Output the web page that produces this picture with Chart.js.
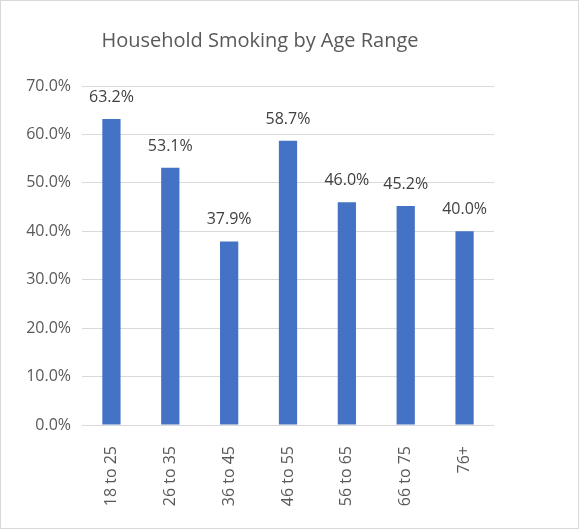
<!DOCTYPE html>
<html>
<head>
<meta charset="utf-8">
<script src="https://cdn.jsdelivr.net/npm/chart.js@4"></script>
<style>
  html, body { margin: 0; padding: 0; background: #fff; }
  #wrap { width: 579px; height: 529px; }
</style>
</head>
<body>
<div id="wrap"><canvas id="myChart" width="579" height="529"></canvas></div>
<script>
// Faixas etárias e percentuais de fumantes
const faixas = ['18 to 25', '26 to 35', '36 to 45', '46 to 55', '56 to 65', '66 to 75', '76+'];
const valores = [63.2, 53.1, 37.9, 58.7, 46.0, 45.2, 40.0];
const ticksY = [0, 10, 20, 30, 40, 50, 60, 70];

const fonte = "'Open Sans', sans-serif";
const cinza = '#595959';

// Escreve o valor acima de cada barra
const rotulosBarras = {
    id: 'rotulosBarras',
    afterDatasetsDraw(chart) {
        const ctx = chart.ctx;
        const meta = chart.getDatasetMeta(0);
        ctx.save();
        ctx.font = '16px ' + fonte;
        ctx.fillStyle = '#404040';
        ctx.textAlign = 'center';
        ctx.textBaseline = 'alphabetic';
        meta.data.forEach((bar, i) => {
            ctx.fillText(valores[i].toFixed(1) + '%', bar.x, bar.y - 17);
        });
        ctx.restore();
    }
};

// Moldura cinza em volta do gráfico
const moldura = {
    id: 'moldura',
    afterDraw(chart) {
        const ctx = chart.ctx;
        ctx.save();
        ctx.strokeStyle = '#d9d9d9';
        ctx.lineWidth = 1;
        ctx.strokeRect(0.5, 0.5, chart.width - 1, chart.height - 1);
        ctx.restore();
    }
};

const ctx = document.getElementById('myChart').getContext('2d');
const myChart = new Chart(ctx, {
    type: 'bar',
    data: {
        labels: faixas,
        datasets: [{
            label: 'Household Smoking',
            data: valores,
            backgroundColor: '#4472C4',
            borderWidth: 0,
            barPercentage: 0.31,
            categoryPercentage: 1
        }]
    },
    options: {
        responsive: false,
        animation: false,
        layout: { padding: { left: 26, right: 85, top: 0, bottom: 10 } },
        plugins: {
            legend: { display: false },
            tooltip: { enabled: false },
            title: {
                display: true,
                text: 'Household Smoking by Age Range',
                color: cinza,
                font: { family: fonte, size: 20, weight: 'normal' },
                padding: { top: 29, bottom: 33 }
            }
        },
        scales: {
            x: {
                grid: { display: false },
                border: { display: false },
                ticks: {
                    color: cinza,
                    font: { family: fonte, size: 16 },
                    minRotation: 90,
                    maxRotation: 90,
                    padding: 13
                },
                afterFit(scale) { scale.height = 94; }
            },
            y: {
                min: 0,
                max: 70,
                afterBuildTicks(scale) {
                    scale.ticks = ticksY.map(v => ({ value: v }));
                },
                grid: { color: '#d9d9d9', drawTicks: false },
                border: { display: false },
                ticks: {
                    color: cinza,
                    font: { family: fonte, size: 16 },
                    padding: 11,
                    callback: v => v.toFixed(1) + '%'
                },
                afterFit(scale) { scale.width = 56; }
            }
        }
    },
    plugins: [rotulosBarras, moldura]
});
</script>
</body>
</html>
